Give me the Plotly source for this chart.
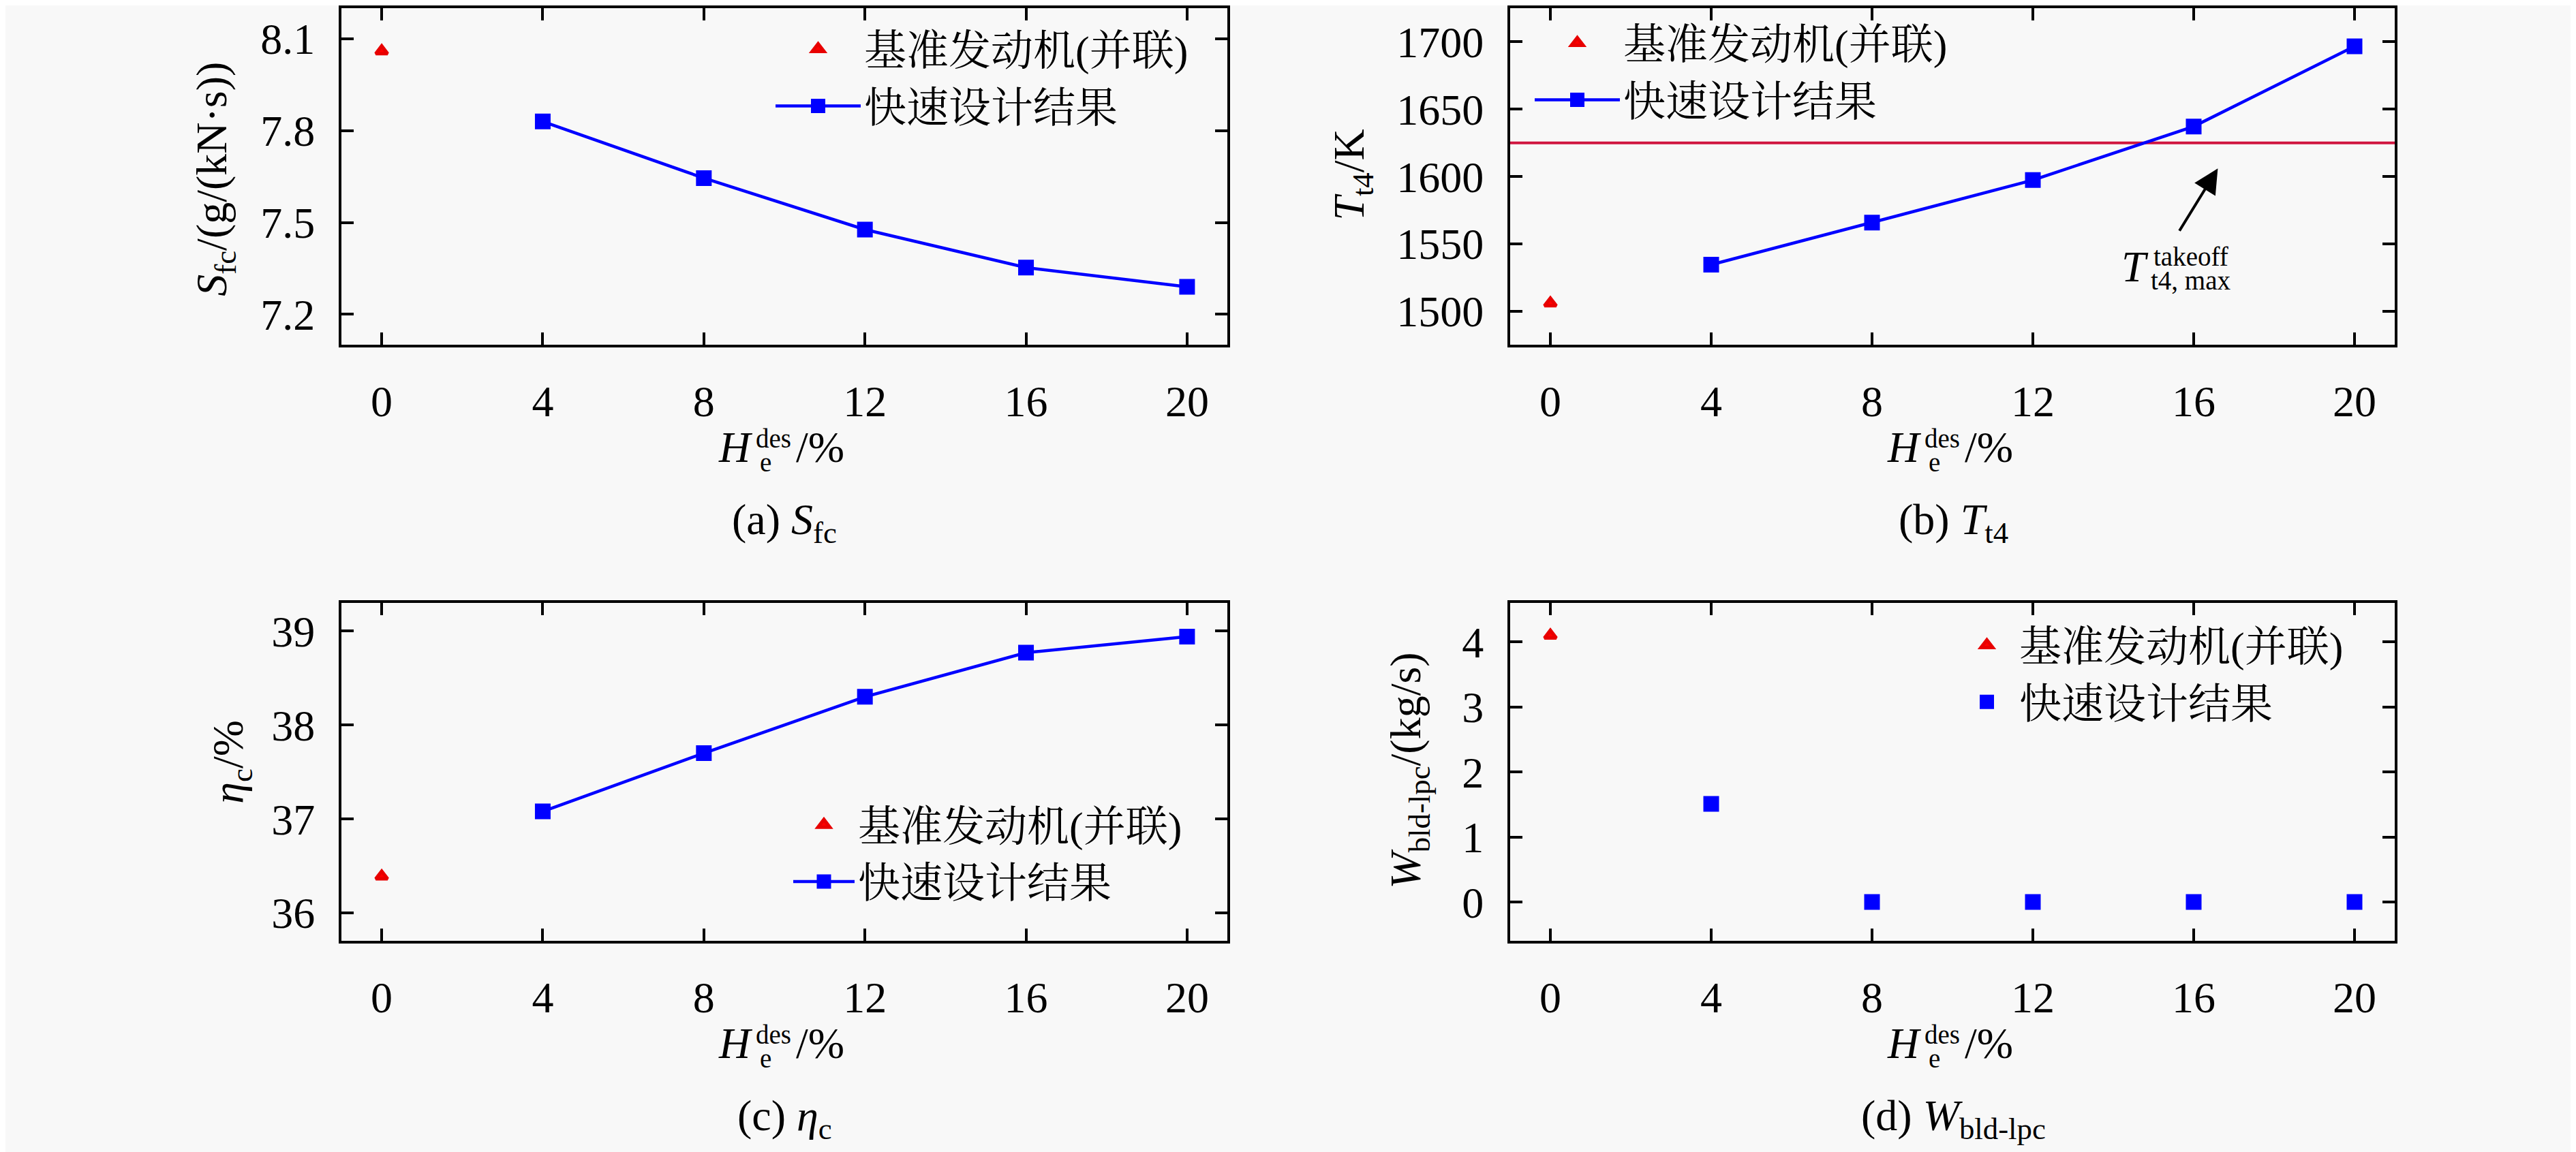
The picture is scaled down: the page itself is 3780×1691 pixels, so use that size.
import plotly.graph_objects as go

W, H = 3780, 1691
FONT = "Liberation Serif, Noto Serif CJK SC, Noto Sans CJK SC, serif"

# design hybridization ratio H_e^des (%)
he_base = [0]
he_fast = [4, 8, 12, 16, 20]
x_ticks = [0, 4, 8, 12, 16, 20]

name_base = "基准发动机(并联)"
name_fast = "快速设计结果"

# (a) specific fuel consumption, g/(kN·s)
sfc_base = [8.06]
sfc_fast = [7.83, 7.645, 7.477, 7.353, 7.29]
sfc_ticks = [7.2, 7.5, 7.8, 8.1]

# (b) T_t4, K
tt4_base = [1506]
tt4_fast = [1534.6, 1565.9, 1597.4, 1637.2, 1696.7]
tt4_ticks = [1500, 1550, 1600, 1650, 1700]
tt4_takeoff_max = 1625
arrow_head = (16.6, 1606)
arrow_tail = (15.63, 1559)

# (c) eta_c, %
etac_base = [36.39]
etac_fast = [37.08, 37.70, 38.30, 38.77, 38.94]
etac_ticks = [36, 37, 38, 39]

# (d) W_bld-lpc, kg/s
wbld_base = [4.10]
wbld_fast = [1.51, 0, 0, 0, 0]
wbld_ticks = [0, 1, 2, 3, 4]

RED = "#ff0000"
BLUE = "#0000ff"


def px(x, y):
    return x / W, 1 - y / H


fig = go.Figure()

panels = [
    ("x", "y", "legend", sfc_base, sfc_fast, True),
    ("x2", "y2", "legend2", tt4_base, tt4_fast, True),
    ("x3", "y3", "legend3", etac_base, etac_fast, True),
    ("x4", "y4", "legend4", wbld_base, wbld_fast, False),
]
# marker outlines in the fill colour make the (size-capped) legend keys bigger
for xa, ya, leg, base, fast, with_line in panels:
    fig.add_trace(go.Scatter(
        x=he_base, y=base, name=name_base, mode="markers", xaxis=xa, yaxis=ya,
        legend=leg, cliponaxis=False,
        marker=dict(symbol="triangle-up", size=15, color=RED,
                    line=dict(color="#e80000", width=5))))
    fig.add_trace(go.Scatter(
        x=he_fast, y=fast, name=name_fast,
        mode="lines+markers" if with_line else "markers",
        xaxis=xa, yaxis=ya, legend=leg, cliponaxis=False,
        line=dict(color=BLUE, width=4.5),
        marker=dict(symbol="square", size=18, color=BLUE,
                    line=dict(color=BLUE, width=5))))

axis_style = dict(
    showline=True, linewidth=4, linecolor="black", mirror="ticks",
    ticks="inside", ticklen=18, tickwidth=3.5, tickcolor="black",
    showgrid=False, zeroline=False,
    tickfont=dict(family=FONT, size=64, color="black"),
)

x_left = [493 / W, 1793 / W]
x_right = [2208 / W, 3506 / W]
y_top = [1 - 497 / H, 1 - 2 / H]
y_bot = [1 - 1373 / H, 1 - 876 / H]

xcommon = dict(axis_style, range=[-1, 21], tickvals=x_ticks, ticklabelstandoff=24)
ycommon = dict(axis_style, ticklabelstandoff=22)

fig.update_layout(
    xaxis=dict(xcommon, domain=x_left, anchor="y"),
    yaxis=dict(ycommon, domain=y_top, anchor="x", range=[7.1, 8.2],
               tickvals=sfc_ticks, tickformat=".1f"),
    xaxis2=dict(xcommon, domain=x_right, anchor="y2"),
    yaxis2=dict(ycommon, domain=y_top, anchor="x2", range=[1475, 1725],
                tickvals=tt4_ticks),
    xaxis3=dict(xcommon, domain=x_left, anchor="y3"),
    yaxis3=dict(ycommon, domain=y_bot, anchor="x3", range=[35.7, 39.3],
                tickvals=etac_ticks),
    xaxis4=dict(xcommon, domain=x_right, anchor="y4"),
    yaxis4=dict(ycommon, domain=y_bot, anchor="x4", range=[-0.6, 4.6],
                tickvals=wbld_ticks),
)


def legend_at(x_px, y_px, itemwidth):
    lx, ly = px(x_px, y_px)
    return dict(x=lx, y=ly, xanchor="left", yanchor="top",
                bgcolor="rgba(0,0,0,0)", borderwidth=0, itemwidth=itemwidth,
                font=dict(family=FONT, size=62, color="black"))


fig.update_layout(
    legend=legend_at(1125, 15, 125),
    legend2=legend_at(2239, 6, 125),
    legend3=legend_at(1151, 1155, 90),
    legend4=legend_at(2860, 891, 85),
)

# takeoff limit line in (b)
fig.add_shape(type="line", xref="x2 domain", yref="y2", x0=0, x1=1,
              y0=tt4_takeoff_max, y1=tt4_takeoff_max, layer="below",
              line=dict(color="#d0163f", width=4))

annotations = [
    dict(x=arrow_head[0], y=arrow_head[1], ax=arrow_tail[0], ay=arrow_tail[1],
         xref="x2", yref="y2", axref="x2", ayref="y2", text="",
         showarrow=True, arrowhead=2, arrowsize=1.8, arrowwidth=4,
         arrowcolor="black", standoff=0),
]

big = dict(family=FONT, size=64, color="black")
small = dict(family=FONT, size=39, color="black")


def text_at(text, x_px, y_px, font, xanchor="center", angle=0):
    lx, ly = px(x_px, y_px)
    return dict(text=text, x=lx, y=ly, xref="paper", yref="paper",
                xanchor=xanchor, yanchor="middle", showarrow=False,
                textangle=angle, font=font)


annotations += [
    text_at("<i>T</i>", 3103, 382, big, "left"),
    text_at("takeoff", 3150, 367, small, "left"),
    text_at("t4, max", 3146, 402, small, "left"),
]

offsets = [(0, 0), (1715, 0), (0, 876), (1715, 876)]
captions = [
    "(a) <i>S</i><sub>fc</sub>",
    "(b) <i>T</i><sub>t4</sub>",
    "(c) <i>η</i><sub>c</sub>",
    "(d) <i>W</i><sub>bld-lpc</sub>",
]
for (dx, dy), cap in zip(offsets, captions):
    annotations += [
        text_at("<i>H</i>", 1099 + dx, 647 + dy, big, "right"),
        text_at("des", 1099 + dx, 634 + dy, small, "left"),
        text_at("e", 1105 + dx, 669 + dy, small, "left"),
        text_at("/%", 1158 + dx, 647 + dy, big, "left"),
        text_at(cap, 1143 + dx, 758 + dy, big),
    ]

y_titles = [
    ("<i>S</i><sub>fc</sub>/(g/(kN·s))", 307, 253),
    ("<i>T</i><sub>t4</sub>/K", 1976, 247),
    ("<i>η</i><sub>c</sub>/%", 331, 1110),
    ("<i>W</i><sub>bld-lpc</sub>/(kg/s)", 2059, 1123),
]
for txt, xp, yp in y_titles:
    annotations.append(text_at(txt, xp, yp, big, "center", -90))

fig.update_layout(
    annotations=annotations,
    width=W, height=H, autosize=False,
    margin=dict(l=0, r=0, t=0, b=0),
    paper_bgcolor="#f8f8f8", plot_bgcolor="#f8f8f8",
    font=dict(family=FONT, size=64, color="black"),
    showlegend=True,
)

fig.write_html("out.html")
